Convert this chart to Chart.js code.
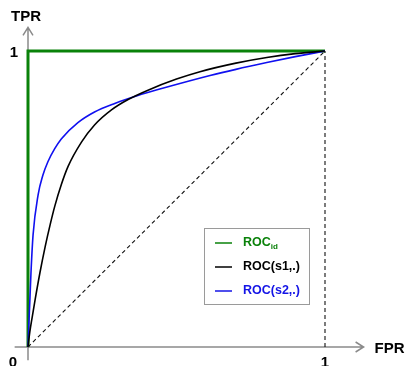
<!DOCTYPE html>
<html>
<head>
<meta charset="utf-8">
<script src="https://cdn.jsdelivr.net/npm/chart.js@4/dist/chart.umd.min.js"></script>
<style>
html,body{margin:0;padding:0;background:#fff;}
#wrap{position:relative;width:410px;height:366px;}
</style>
</head>
<body>
<div id="wrap"><canvas id="c" width="410" height="366"></canvas></div>
<script>
// ---- data ----
const idealFpr = [0, 0, 1];
const idealTpr = [0, 1, 1];
const s1Fpr = [0, 0.006, 0.014, 0.024, 0.040, 0.058, 0.075, 0.090, 0.112, 0.135, 0.180, 0.224, 0.281, 0.337, 0.400, 0.500, 0.579, 0.700, 0.804, 0.900, 1];
const s1Tpr = [0, 0.050, 0.100, 0.160, 0.250, 0.340, 0.415, 0.475, 0.548, 0.610, 0.692, 0.750, 0.801, 0.836, 0.866, 0.905, 0.930, 0.959, 0.978, 0.991, 1];
const s2Fpr = [0, 0.003, 0.006, 0.010, 0.017, 0.034, 0.050, 0.067, 0.090, 0.112, 0.168, 0.224, 0.292, 0.370, 0.450, 0.613, 0.700, 0.804, 0.900, 1];
const s2Tpr = [0, 0.080, 0.150, 0.250, 0.378, 0.514, 0.580, 0.626, 0.670, 0.703, 0.758, 0.794, 0.823, 0.850, 0.873, 0.917, 0.938, 0.961, 0.981, 1];
const chanceFpr = [0, 1];
const chanceTpr = [0, 1];
const edgeFpr = [1, 1];
const edgeTpr = [0, 1];
const xTickValues = [1];
const xTickLabels = ['1'];
const yTickValues = [1];
const yTickLabels = ['1'];
const originLabel = '0';
const xAxisTitle = 'FPR';
const yAxisTitle = 'TPR';
const legendLabels = [
  {main: 'ROC', sub: 'id', color: '#0a820a'},
  {main: 'ROC(s1,.)', sub: '', color: '#000000'},
  {main: 'ROC(s2,.)', sub: '', color: '#1414e6'}
];

const pts = (xs, ys) => xs.map((x, i) => ({x: x, y: ys[i]}));

const FONT = '"Liberation Sans", Arial, sans-serif';

const axesPlugin = {
  id: 'axesPlugin',
  beforeDatasetsDraw(chart) {
    const ctx = chart.ctx;
    const xs = chart.scales.x, ys = chart.scales.y;
    const x0 = xs.getPixelForValue(0), y0 = ys.getPixelForValue(0);
    const xEnd = xs.getPixelForValue(1.13), xStart = xs.getPixelForValue(-0.045);
    const yEnd = ys.getPixelForValue(1.08), yStart = ys.getPixelForValue(-0.045);
    ctx.save();
    ctx.strokeStyle = '#8a8a8a';
    ctx.lineWidth = 1.5;
    ctx.beginPath();
    ctx.moveTo(xStart, y0); ctx.lineTo(xEnd, y0);
    ctx.moveTo(xEnd - 8, y0 - 5); ctx.lineTo(xEnd, y0); ctx.lineTo(xEnd - 8, y0 + 5);
    ctx.moveTo(x0, yStart); ctx.lineTo(x0, yEnd);
    ctx.moveTo(x0 - 5, yEnd + 8); ctx.lineTo(x0, yEnd); ctx.lineTo(x0 + 5, yEnd + 8);
    ctx.stroke();
    ctx.restore();
  },
  afterDraw(chart) {
    const ctx = chart.ctx;
    const xs = chart.scales.x, ys = chart.scales.y;
    const x0 = xs.getPixelForValue(0), y0 = ys.getPixelForValue(0);
    ctx.save();
    ctx.fillStyle = '#000';
    ctx.font = 'bold 15px ' + FONT;
    ctx.textBaseline = 'alphabetic';
    ctx.textAlign = 'center';
    ctx.fillText(originLabel, x0 - 15, y0 + 20);
    xTickValues.forEach((v, i) => ctx.fillText(xTickLabels[i], xs.getPixelForValue(v), y0 + 20));
    yTickValues.forEach((v, i) => ctx.fillText(yTickLabels[i], x0 - 14, ys.getPixelForValue(v) + 6));
    ctx.fillText(yAxisTitle, x0 - 2, 21);
    ctx.textAlign = 'left';
    ctx.fillText(xAxisTitle, xs.getPixelForValue(1.13) + 11, y0 + 6);

    // legend box
    const bx = 204, by = 228, bw = 105, bh = 76;
    ctx.strokeStyle = '#9a9a9a';
    ctx.lineWidth = 1;
    ctx.strokeRect(bx + 0.5, by + 0.5, bw, bh);
    const rows = [243, 267, 291];
    legendLabels.forEach((l, i) => {
      const yy = rows[i];
      ctx.strokeStyle = l.color;
      ctx.lineWidth = 1.5;
      ctx.beginPath(); ctx.moveTo(215, yy); ctx.lineTo(232, yy); ctx.stroke();
      ctx.fillStyle = l.color;
      ctx.font = 'bold 12.5px ' + FONT;
      ctx.textAlign = 'left';
      ctx.textBaseline = 'middle';
      ctx.fillText(l.main, 243, yy);
      if (l.sub) {
        const w = ctx.measureText(l.main).width;
        ctx.font = 'bold 8px ' + FONT;
        ctx.fillText(l.sub, 243 + w, yy + 4);
      }
    });
    ctx.restore();
  }
};

new Chart(document.getElementById('c'), {
  type: 'scatter',
  data: {
    datasets: [
      {label: 'chance', data: pts(chanceFpr, chanceTpr), showLine: true, borderColor: '#111', borderWidth: 1.1, borderDash: [4, 3], pointRadius: 0},
      {label: 'edge', data: pts(edgeFpr, edgeTpr), showLine: true, borderColor: '#111', borderWidth: 1.1, borderDash: [4, 3], pointRadius: 0},
      {label: 'ROC(s1,.)', data: pts(s1Fpr, s1Tpr), showLine: true, borderColor: '#000', borderWidth: 1.6, pointRadius: 0, cubicInterpolationMode: 'monotone'},
      {label: 'ROC(s2,.)', data: pts(s2Fpr, s2Tpr), showLine: true, borderColor: '#1010f0', borderWidth: 1.6, pointRadius: 0, cubicInterpolationMode: 'monotone'},
      {label: 'ROCid', data: pts(idealFpr, idealTpr), showLine: true, borderColor: '#0a820a', borderWidth: 3, pointRadius: 0}
    ]
  },
  options: {
    responsive: false,
    animation: false,
    events: [],
    layout: {padding: {left: 28, right: 85, top: 51, bottom: 19}},
    datasets: {scatter: {clip: false}},
    plugins: {legend: {display: false}, tooltip: {enabled: false}},
    scales: {
      x: {type: 'linear', min: 0, max: 1, display: false},
      y: {type: 'linear', min: 0, max: 1, display: false}
    }
  },
  plugins: [axesPlugin]
});
</script>
</body>
</html>
